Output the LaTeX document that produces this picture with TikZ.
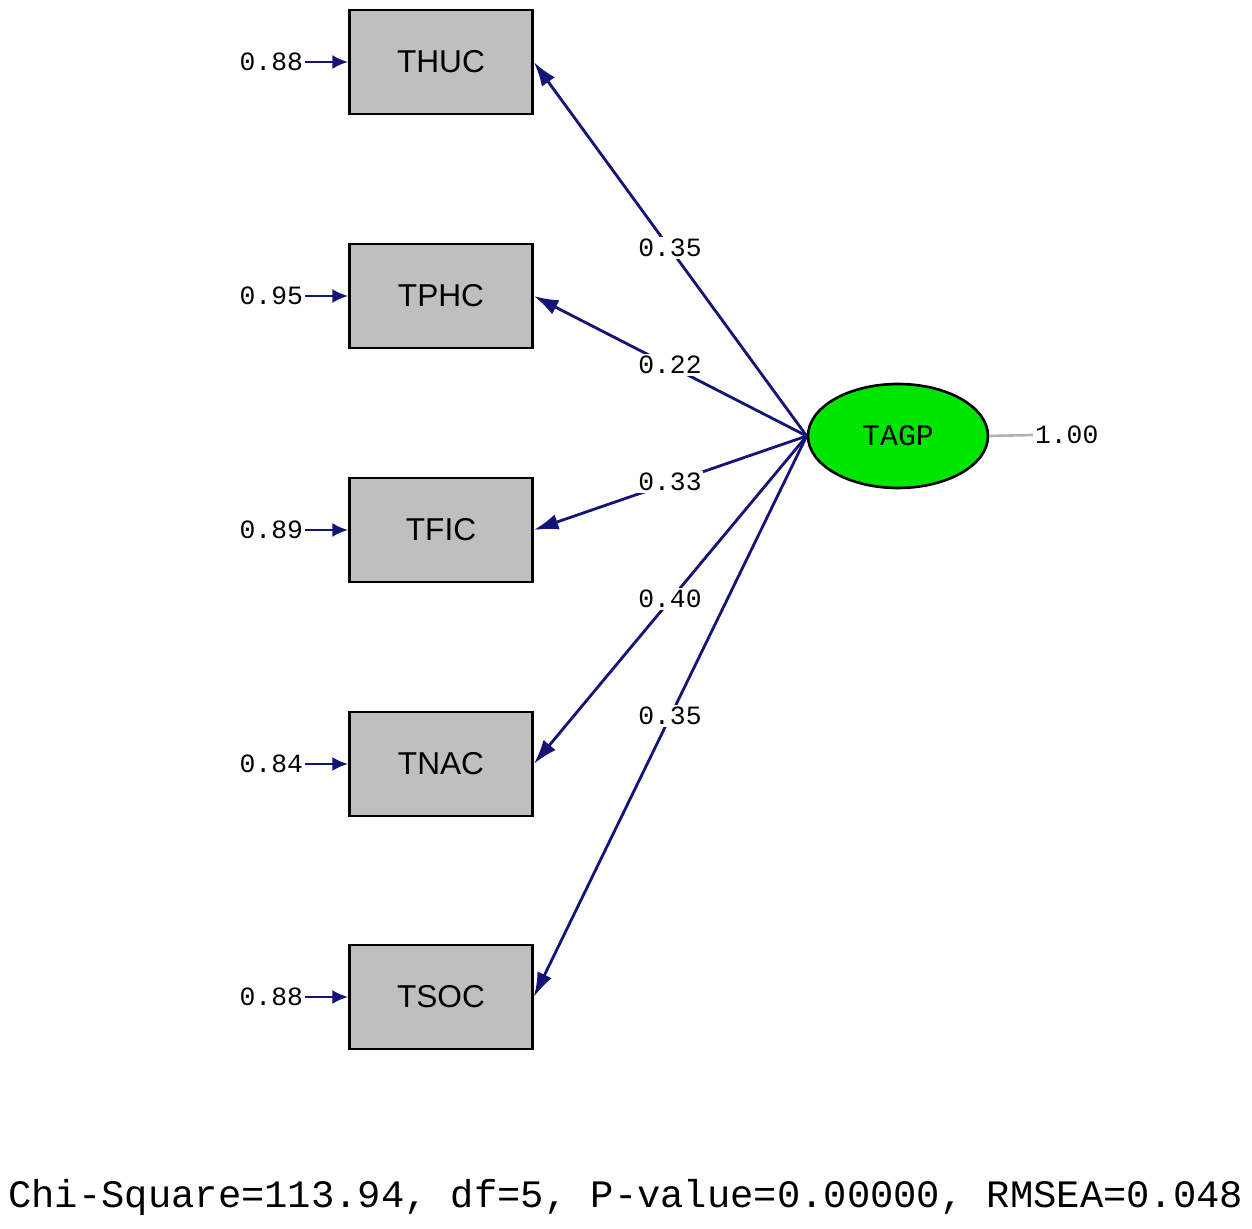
\documentclass[tikz,border=0pt]{standalone}
\usepackage{fontspec}
\setmainfont{Liberation Sans}
\newfontfamily\monof{Liberation Mono}
\usetikzlibrary{shapes.geometric,arrows.meta}
\definecolor{pathc}{RGB}{20,20,120}
\begin{document}
\begin{tikzpicture}[x=0.02cm,y=-0.02cm,
 obs/.style={draw,line width=1.5pt,fill=gray!50,minimum width=3.66cm,minimum height=2.08cm,inner sep=0,font=\fontsize{18}{20}\selectfont},
 lat/.style={ellipse,draw,line width=1.5pt,fill=green!90!black,minimum width=3.6cm,minimum height=2.08cm,inner sep=0,font=\fontsize{17}{19}\selectfont\monof},
 num/.style={font=\fontsize{15}{17}\selectfont\monof,inner sep=1pt},
 lbl/.style={num,fill=white},
 pth/.style={draw=pathc,line width=1.6pt,-{Latex[length=14pt,width=9pt]}},
 err/.style={draw=pathc,line width=1.6pt,-{Latex[length=9pt,width=8pt]}}]
\useasboundingbox (0,0) rectangle (1252,1229);
\fill[white] (0,0) rectangle (1252,1229);
\node[obs] (b1) at (441,62) {THUC};
\node[obs] (b2) at (441,296) {TPHC};
\node[obs] (b3) at (441,530) {TFIC};
\node[obs] (b4) at (441,764) {TNAC};
\node[obs] (b5) at (441,997) {TSOC};
\node[lat] (t) at (898,436) {TAGP};
\coordinate (o) at (t.west);
\foreach \i/\v/\e/\y in {1/0.35/0.88/62,2/0.22/0.95/296,3/0.33/0.89/530,4/0.40/0.84/764,5/0.35/0.88/997}{
  \draw[pth] (o) -- (b\i.east);
  \node[num,anchor=east] (e\i) at (305,\y) {\e};
  \draw[err] (e\i.east) -- (b\i.west);
}
\node[lbl] (l1) at (670,248) {0.35};
\node[lbl] (l2) at (670,365) {0.22};
\node[lbl] (l3) at (670,482) {0.33};
\node[lbl] (l4) at (670,599) {0.40};
\node[lbl] (l5) at (670,716) {0.35};
\node[num,anchor=west] (r) at (1033,435) {1.00};
\draw[gray!60,line width=1.5pt] (t.east) -- (r.west);
\node[font=\fontsize{22.1}{26}\selectfont\monof,anchor=west,inner sep=0] (fit) at (8,1197) {Chi-Square=113.94, df=5, P-value=0.00000, RMSEA=0.048};
\end{tikzpicture}
\end{document}
